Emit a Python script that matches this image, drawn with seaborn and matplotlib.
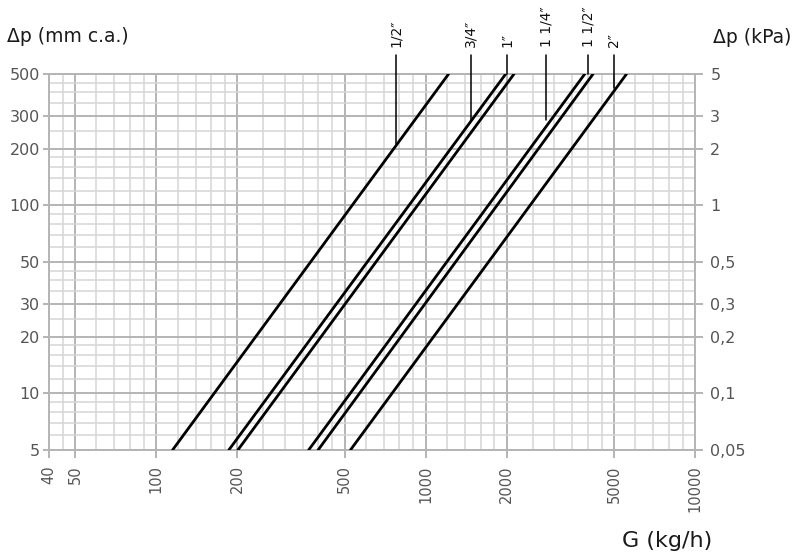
import matplotlib
matplotlib.use("Agg")
import matplotlib.pyplot as plt
import matplotlib.ticker as mticker
import numpy as np
import pandas as pd
import seaborn as sns

# pipe sizes and the flow (kg/h) at which each line crosses 5 and 500 mm c.a.
sizes = ["1/2\u2033", "3/4\u2033", "1\u2033", "1 1/4\u2033", "1 1/2\u2033", "2\u2033"]
g_at_5 = [115, 186, 201, 368, 399, 526]
g_at_500 = [1217, 1983, 2129, 3897, 4184, 5570]
dp_ends = [5, 500]

# label leaders: flow position and where each leader stops (mm c.a.)
leader_g = [778, 1469, 2012, 2809, 4010, 5010]
leader_dp = [212, 284, 500, 284, 500, 421]
leader_top = 630
label_dp = 696

x_major = [40, 50, 100, 200, 500, 1000, 2000, 5000, 10000]
x_minor = [45, 60, 70, 80, 90, 120, 140, 160, 180, 250, 300, 350, 400, 450,
           600, 700, 800, 900, 1200, 1400, 1600, 1800, 2500, 3000, 3500, 4000, 4500,
           6000, 7000, 8000, 9000]
y_major = [5, 10, 20, 30, 50, 100, 200, 300, 500]
y_minor = [6, 7, 8, 9, 12, 14, 16, 18, 25, 35, 40, 45, 60, 70, 80, 90,
           120, 140, 160, 180, 250, 350, 400, 450]
kpa_ticks = [0.05, 0.1, 0.2, 0.3, 0.5, 1, 2, 3, 5]
kpa_labels = ["0,05", "0,1", "0,2", "0,3", "0,5", "1", "2", "3", "5"]

rows = []
for s, g0, g1 in zip(sizes, g_at_5, g_at_500):
    rows.append({"size": s, "G": g0, "dp": dp_ends[0]})
    rows.append({"size": s, "G": g1, "dp": dp_ends[1]})
df = pd.DataFrame(rows)

sns.set_style("white")
plt.rcParams["font.family"] = ["DejaVu Sans"]

major_c = "#b4b4b4"
minor_c = "#d6d6d6"
tick_c = "#555555"

fig = plt.figure(figsize=(8.04, 5.56), dpi=100)
ax = fig.add_axes([49 / 804, 1 - 450 / 556, (695 - 49) / 804, (450 - 74) / 556])

sns.lineplot(data=df, x="G", y="dp", units="size", estimator=None, color="black",
             lw=2.0, ax=ax, legend=False, zorder=3)

ax.set_xscale("log")
ax.set_yscale("log")
ax.set_xlim(40, 10000)
ax.set_ylim(5, 500)
ax.set_xticks(x_major)
ax.set_xticklabels([str(v) for v in x_major], rotation=90)
ax.set_xticks(x_minor, minor=True)
ax.set_yticks(y_major)
ax.set_yticklabels([str(v) for v in y_major])
ax.set_yticks(y_minor, minor=True)
ax.xaxis.set_minor_formatter(mticker.NullFormatter())
ax.yaxis.set_minor_formatter(mticker.NullFormatter())
ax.set_xlabel("")
ax.set_ylabel("")
ax.set_axisbelow(True)
ax.grid(which="major", color=major_c, lw=1.4)
ax.grid(which="minor", color=minor_c, lw=1.1)
for sp in ax.spines.values():
    sp.set_color(major_c)
    sp.set_linewidth(1.4)
ax.tick_params(which="minor", length=0)
ax.tick_params(axis="x", which="major", length=6, width=1.4, color=major_c, pad=5,
               labelsize=10.5, labelcolor=tick_c)
ax.tick_params(axis="y", which="major", length=4.5, width=1.4, color=major_c, pad=2,
               labelsize=11.5, labelcolor=tick_c)
ax.tick_params(bottom=True, left=True)

ax2 = ax.twinx()
ax2.set_yscale("log")
ax2.set_ylim(0.05, 5)
ax2.set_yticks(kpa_ticks)
ax2.set_yticklabels(kpa_labels)
ax2.yaxis.set_minor_locator(mticker.NullLocator())
ax2.tick_params(axis="y", length=6, width=1.4, color=major_c, pad=5,
                labelsize=11.5, labelcolor=tick_c)
for sp in ax2.spines.values():
    sp.set_visible(False)

# leaders and size labels above the grid
for s, g, dp in zip(sizes, leader_g, leader_dp):
    ax.plot([g, g], [dp, leader_top], color="black", lw=1.1, clip_on=False, zorder=4)
    ax.text(g, label_dp, s, rotation=90, ha="center", va="bottom", fontsize=10,
            color="#111111", clip_on=False)

fig.text(7 / 804, 1 - 42 / 556, "\u0394p (mm c.a.)", fontsize=13.5, color="#1a1a1a",
         ha="left", va="baseline")
fig.text(713 / 804, 1 - 43 / 556, "\u0394p (kPa)", fontsize=13.5, color="#1a1a1a",
         ha="left", va="baseline")
fig.text(622 / 804, 1 - 547 / 556, "G (kg/h)", fontsize=16, color="#1a1a1a",
         ha="left", va="baseline")

fig.savefig("out.png", dpi=100)
